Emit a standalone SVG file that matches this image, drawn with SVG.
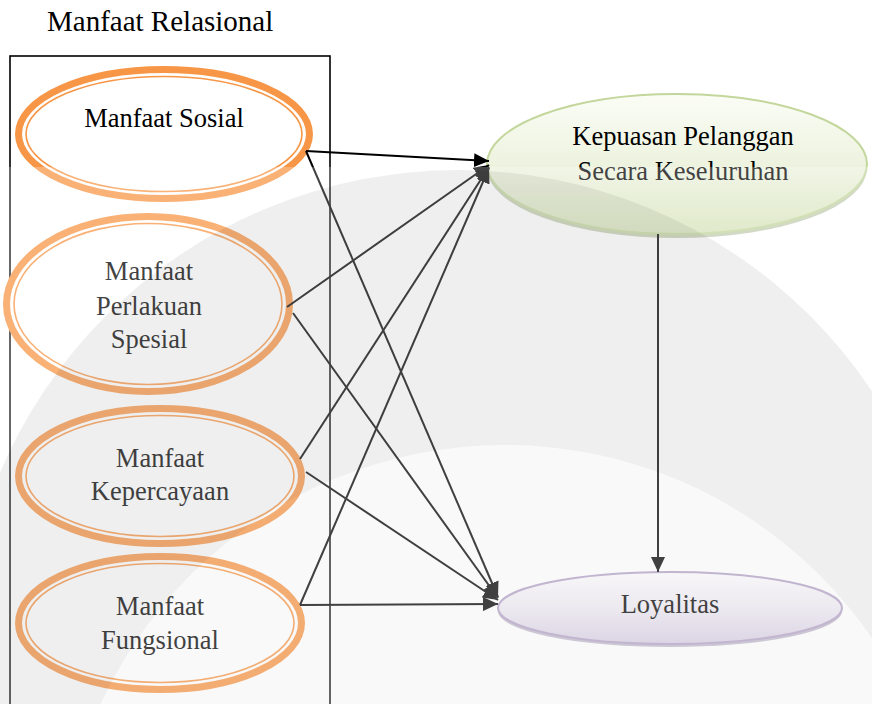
<svg xmlns="http://www.w3.org/2000/svg" width="872" height="704" viewBox="0 0 872 704">
<defs>
<style>
.t{font-family:"Liberation Serif","Times New Roman",serif;font-size:26.5px;fill:#000;text-anchor:middle}
.title{font-family:"Liberation Serif","Times New Roman",serif;font-size:29px;fill:#000}
.ring{fill:#fff;stroke:#F79646;stroke-width:7}
.inner{fill:none;stroke:#F79646;stroke-width:1.6}
.c{stroke:#000;stroke-width:2;fill:none;marker-end:url(#ah)}
</style>
<marker id="ah" markerUnits="userSpaceOnUse" markerWidth="15" markerHeight="14" refX="15" refY="7" orient="auto">
<path d="M0,0 L15,7 L0,14 Z" fill="#000"/>
</marker>
<linearGradient id="gG" x1="0" y1="0" x2="0" y2="1">
<stop offset="0" stop-color="#FBFDF6"/>
<stop offset="0.5" stop-color="#EDF3DF"/>
<stop offset="1" stop-color="#D5E2B8"/>
</linearGradient>
<linearGradient id="gP" x1="0" y1="0" x2="0" y2="1">
<stop offset="0" stop-color="#FDFCFE"/>
<stop offset="0.5" stop-color="#EEEAF3"/>
<stop offset="1" stop-color="#D8CFE4"/>
</linearGradient>
<mask id="band">
<rect x="0" y="0" width="872" height="704" fill="#fff"/>
<circle cx="505" cy="890" r="445" fill="#000"/>
</mask>
</defs>
<rect width="872" height="704" fill="#fff"/>

<text class="title" x="47" y="31">Manfaat Relasional</text>
<rect id="frame" x="10" y="56" width="320" height="670" fill="none" stroke="#000" stroke-width="1.6"/>

<g id="n-sosial">
<ellipse class="ring" cx="164" cy="134" rx="145.5" ry="64.5"/>
<ellipse class="inner" cx="164" cy="134" rx="138" ry="57.5"/>
<text class="t" x="164" y="127">Manfaat Sosial</text>
</g>
<g id="n-perlakuan">
<ellipse class="ring" cx="148" cy="304" rx="141.5" ry="87.5"/>
<ellipse class="inner" cx="148" cy="304" rx="134" ry="80.5"/>
<text class="t" x="149" y="280">Manfaat</text>
<text class="t" x="149" y="315">Perlakuan</text>
<text class="t" x="149" y="348">Spesial</text>
</g>
<g id="n-kepercayaan">
<ellipse class="ring" cx="160" cy="476" rx="141.5" ry="67.5"/>
<ellipse class="inner" cx="160" cy="476" rx="134" ry="60.5"/>
<text class="t" x="160" y="467">Manfaat</text>
<text class="t" x="160" y="500">Kepercayaan</text>
</g>
<g id="n-fungsional">
<ellipse class="ring" cx="160" cy="623" rx="141.5" ry="66.5"/>
<ellipse class="inner" cx="160" cy="623" rx="134" ry="59.5"/>
<text class="t" x="160" y="615">Manfaat</text>
<text class="t" x="160" y="649">Fungsional</text>
</g>
<g id="n-kepuasan">
<ellipse cx="677" cy="168" rx="190" ry="70" fill="#A9B78F" opacity="0.7"/>
<ellipse cx="677" cy="164" rx="190" ry="70" fill="url(#gG)" stroke="#C3D69B" stroke-width="2"/>
<text class="t" x="683" y="145">Kepuasan Pelanggan</text>
<text class="t" x="683" y="180">Secara Keseluruhan</text>
</g>
<g id="n-loyalitas">
<ellipse cx="670" cy="611" rx="172" ry="36" fill="#A89DB8" opacity="0.7"/>
<ellipse cx="670" cy="608" rx="172" ry="36" fill="url(#gP)" stroke="#B3A2C7" stroke-width="2"/>
<text class="t" x="670" y="613">Loyalitas</text>
</g>

<g id="connectors">
<line class="c" x1="306" y1="151" x2="489" y2="161"/>
<line class="c" x1="306" y1="151" x2="498" y2="597"/>
<line class="c" x1="287" y1="307" x2="489" y2="165"/>
<line class="c" x1="293" y1="313" x2="498" y2="598"/>
<line class="c" x1="300" y1="459" x2="489" y2="167"/>
<line class="c" x1="306" y1="472" x2="498" y2="600"/>
<line class="c" x1="300" y1="605" x2="489" y2="168"/>
<line class="c" x1="300" y1="605" x2="498" y2="604"/>
<line class="c" x1="658" y1="234" x2="658" y2="572"/>
</g>

<g id="watermark" pointer-events="none">
<rect x="0" y="167" width="872" height="537" fill="#fff" opacity="0.26"/>
<circle cx="458" cy="668" r="498" fill="#000" opacity="0.06" mask="url(#band)"/>
<circle cx="505" cy="890" r="445" fill="#000" opacity="0.025"/>
</g>
</svg>
